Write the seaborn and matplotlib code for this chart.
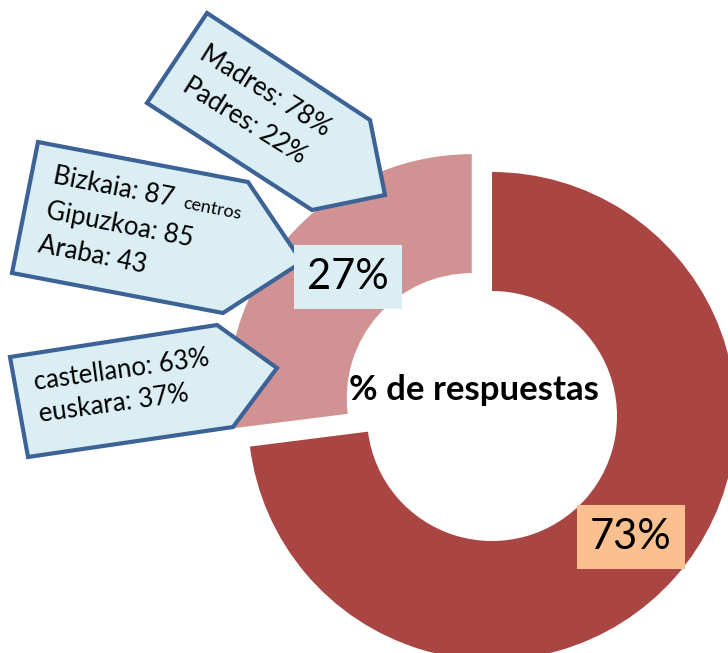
import matplotlib
matplotlib.use("Agg")
import matplotlib.pyplot as plt
from matplotlib.patches import Polygon
import seaborn as sns

# ── data ─────────────────────────────────────────
values = [73, 27]
slice_labels = ["73%", "27%"]
slice_colors = ["#A94543", "#D09292"]
center_title = "% de respuestas"

callout_parents = ["Madres: 78%", "Padres: 22%"]
callout_centros = ["Bizkaia: 87", "Gipuzkoa: 85", "Araba: 43"]
centros_unit = "centros"
callout_lang = ["castellano: 63%", "euskara: 37%"]

# ── layout (pixel coords, y from top) ────────────
W, H = 728, 653
def P(x, y):
    return (x, H - y)

BOX_FILL = "#DAEEF3"
BOX_EDGE = "#3D6396"

sns.set_theme(style="white")
plt.rcParams['font.family'] = ['Lato', 'DejaVu Sans']
plt.rcParams['text.color'] = 'black'

fig = plt.figure(figsize=(W / 100, H / 100), dpi=100)
ax = fig.add_axes([0, 0, 1, 1])

ax.pie(values, colors=slice_colors, startangle=90, counterclock=False,
       explode=[0, 27], radius=244, center=P(492, 416),
       wedgeprops=dict(width=119, linewidth=0))
ax.set_xlim(0, W)
ax.set_ylim(0, H)
ax.set_aspect('equal')
ax.axis('off')

# centre text
ax.text(*P(474, 390), center_title, ha='center', va='center',
        fontsize=25, fontweight='bold')

# slice value labels
ax.text(*P(348, 277), slice_labels[1], ha='center', va='center', fontsize=30,
        zorder=6, bbox=dict(boxstyle='square,pad=0.32', fc=BOX_FILL, ec='none'))
ax.text(*P(631, 537), slice_labels[0], ha='center', va='center', fontsize=30,
        zorder=6, bbox=dict(boxstyle='square,pad=0.32', fc="#FAC090", ec='none'))

# callout shapes
shapes = [
    [(207, 13), (370, 120), (385, 195), (312, 210), (147, 103)],
    [(38, 142), (248, 182), (302, 262), (223, 313), (12, 273)],
    [(10, 357), (217, 325), (277, 368), (233, 427), (28, 457)],
]
for pts in shapes:
    ax.add_patch(Polygon([P(x, y) for x, y in pts], closed=True,
                         fc=BOX_FILL, ec=BOX_EDGE, lw=3, joinstyle='miter',
                         zorder=4))

def line(txt, x, y, rot, size=18.5):
    ax.text(*P(x, y), txt, ha='left', va='baseline', rotation=rot,
            rotation_mode='anchor', fontsize=size, zorder=5)

# Madres / Padres
line(callout_parents[0], 198, 58, -32)
line(callout_parents[1], 181, 90, -32)
# Bizkaia / Gipuzkoa / Araba
line(callout_centros[0], 52, 183, -11)
line(centros_unit, 182, 208, -11, size=13)
line(callout_centros[1], 45, 218, -11)
line(callout_centros[2], 37, 252, -11)
# castellano / euskara
line(callout_lang[0], 35, 390, 8)
line(callout_lang[1], 40, 422, 8)

plt.savefig("out.png", dpi=100)
